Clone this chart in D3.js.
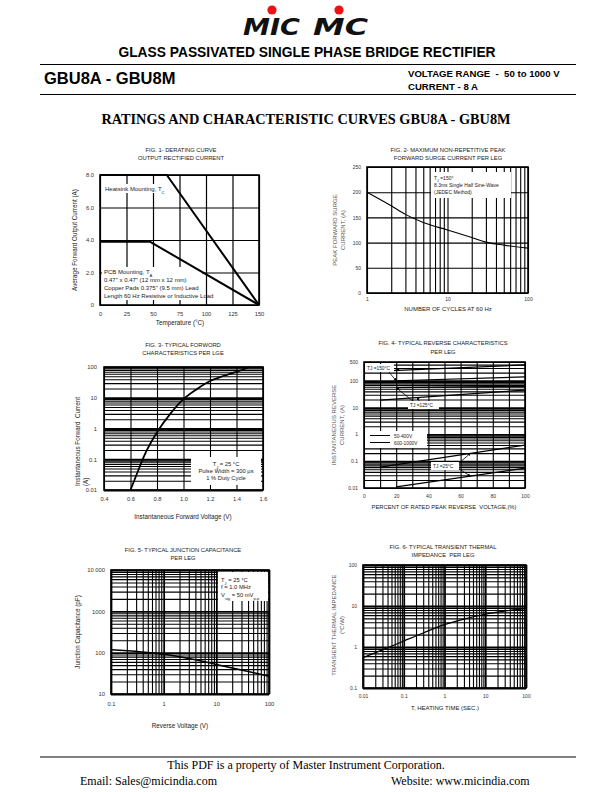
<!DOCTYPE html>
<html><head><meta charset="utf-8">
<script src="https://cdn.jsdelivr.net/npm/d3@7"></script>
<style>body{margin:0;background:#fff} text{white-space:pre}</style>
</head><body>
<script>
// ---------------- DATA ----------------
// Fig 1 - derating curve
const fig1XTicks = [0, 25, 50, 75, 100, 125, 150];
const fig1YTicks = [0, 2, 4, 6, 8];
const fig1YLabels = ["0", "2.0", "4.0", "6.0", "8.0"];
const fig1HeatsinkTemp = [0, 63, 150];
const fig1HeatsinkCurrent = [8, 8, 0];
const fig1PcbTemp = [0, 47, 150];
const fig1PcbCurrent = [3.9, 3.9, 0];
// Fig 2 - surge current
const fig2Cycles = [1, 2, 3, 5, 10, 20, 30, 50, 100];
const fig2Surge = [200, 173, 156, 140, 125, 110, 101, 95, 89];
const fig2XTicks = [1, 10, 100];
const fig2YTicks = [0, 50, 100, 150, 200, 250];
// Fig 3 - forward characteristics
const fig3Voltage = [0.6, 0.65, 0.7, 0.8, 0.9, 1.0, 1.1, 1.2, 1.3, 1.4, 1.5];
const fig3Current = [0.01, 0.035, 0.12, 0.75, 3, 9, 19, 35, 51, 69, 100];
const fig3XTicks = [0.4, 0.6, 0.8, 1.0, 1.2, 1.4, 1.6];
const fig3XLabels = ["0.4", "0.6", "0.8", "1.0", "1.2", "1.4", "1.6"];
const fig3YTicks = [0.01, 0.1, 1, 10, 100];
const fig3YLabels = ["0.01", "0.1", "1", "10", "100"];
// Fig 4 - reverse characteristics
const fig4XTicks = [0, 20, 40, 60, 80, 100];
const fig4YTicks = [0.01, 0.1, 1, 10, 100, 500];
const fig4YLabels = ["0.01", "0.1", "1", "10", "100", "500"];
const fig4Pct150Hi = [10, 100], fig4Ir150Hi = [230, 390];
const fig4Pct150Lo = [20, 100], fig4Ir150Lo = [100, 140];
const fig4Pct125Hi = [20, 100], fig4Ir125Hi = [55, 62];
const fig4Pct125Lo = [10, 100], fig4Ir125Lo = [19, 45];
const fig4Pct25Hi = [10, 100], fig4Ir25Hi = [0.06, 0.4];
const fig4Pct25Lo = [20, 100], fig4Ir25Lo = [0.011, 0.055];
// Fig 5 - junction capacitance
const fig5Voltage = [0.1, 1, 3, 10, 30, 100];
const fig5Cap = [117, 91, 72, 52, 38, 27];
const fig5XTicks = [0.1, 1, 10, 100];
const fig5XLabels = ["0.1", "1", "10", "100"];
const fig5YTicks = [10, 100, 1000, 10000];
const fig5YLabels = ["10", "100", "1000", "10 000"];
// Fig 6 - transient thermal impedance
const fig6Time = [0.01, 0.03, 0.1, 0.3, 1, 3, 10, 30, 100];
const fig6Imp = [0.55, 0.85, 1.4, 2.2, 3.5, 4.8, 6.3, 7.5, 8.6];
const fig6XTicks = [0.01, 0.1, 1, 10, 100];
const fig6XLabels = ["0.01", "0.1", "1", "10", "100"];
const fig6YTicks = [0.1, 1, 10, 100];
const fig6YLabels = ["0.1", "1", "10", "100"];

// ---------------- DRAWING ----------------
const SANS = "'Liberation Sans', Arial, Helvetica, sans-serif";
const SERIF = "'Liberation Serif', 'Times New Roman', serif";
const svg = d3.select("body").append("svg").attr("width", 612).attr("height", 792);

function text(x, y, s, o = {}) {
  const t = svg.append("text").attr("x", x).attr("y", y)
    .attr("font-family", o.family || SANS).attr("font-size", o.size || 6.3)
    .attr("font-weight", o.weight || "normal").attr("text-anchor", o.anchor || "start")
    .attr("fill", o.fill || "#1a1a1a");
  if (o.style) t.attr("font-style", o.style);
  if (o.rotate) t.attr("transform", `rotate(-90,${x},${y})`);
  if (Array.isArray(s)) {
    s.forEach(p => {
      const ts = t.append("tspan").text(p[0]);
      if (p[1]) ts.attr("font-size", (o.size || 6.3) * 0.7).attr("baseline-shift", "sub");
    });
  } else t.text(s);
  return t;
}

function logGrid(lo, hi) {
  const out = [];
  for (let e = Math.floor(Math.log10(lo)); e <= Math.ceil(Math.log10(hi)); e++)
    for (let k = 1; k <= 9; k++) {
      const v = +(k * Math.pow(10, e)).toPrecision(6);
      if (v >= lo * 0.999 && v <= hi * 1.001) out.push(v);
    }
  return out;
}

function panel(o) {
  const g = svg.append("g");
  const [x0, x1] = o.x.range(), [yb, yt] = o.y.range();
  const gw = o.gridW || 1.1;
  g.append("g").attr("transform", `translate(0,${yb})`)
    .call(d3.axisBottom(o.x).tickValues(o.xGrid).tickSize(-(yb - yt)).tickFormat(""))
    .call(s => { s.select(".domain").remove(); s.selectAll("line").attr("stroke", "#000")
      .attr("stroke-width", d => (o.xMajor && o.xMajor.includes(d)) ? gw * 1.6 : gw); });
  g.append("g").attr("transform", `translate(${x0},0)`)
    .call(d3.axisLeft(o.y).tickValues(o.yGrid).tickSize(-(x1 - x0)).tickFormat(""))
    .call(s => { s.select(".domain").remove(); s.selectAll("line").attr("stroke", "#000")
      .attr("stroke-width", d => (o.yMajor && o.yMajor.includes(d)) ? gw * 1.6 : gw); });
  g.append("rect").attr("x", x0).attr("y", yt).attr("width", x1 - x0).attr("height", yb - yt)
    .attr("fill", "none").attr("stroke", "#000").attr("stroke-width", o.frameW || 1.6);
  g.append("g").attr("transform", `translate(0,${yb})`)
    .call(d3.axisBottom(o.x).tickValues(o.xTicks).tickSize(0).tickPadding(o.xPad || 7)
      .tickFormat((d, i) => o.xLabels ? o.xLabels[i] : String(d)))
    .call(s => { s.select(".domain").remove(); s.selectAll("text").attr("font-family", SANS)
      .attr("font-size", o.tickSize || 5.8).attr("fill", "#333"); });
  g.append("g").attr("transform", `translate(${x0},0)`)
    .call(d3.axisLeft(o.y).tickValues(o.yTicks).tickSize(0).tickPadding(o.yPad || 5)
      .tickFormat((d, i) => o.yLabels ? o.yLabels[i] : String(d)))
    .call(s => { s.select(".domain").remove(); s.selectAll("text").attr("font-family", SANS)
      .attr("font-size", o.tickSize || 5.8).attr("fill", "#333"); });
  return g;
}

function curve(xs, ys, x, y, w, smooth) {
  const pts = xs.map((d, i) => [d, ys[i]]);
  const gen = d3.line().x(d => x(d[0])).y(d => y(d[1]));
  if (smooth) gen.curve(d3.curveMonotoneX);
  return svg.append("path").attr("d", gen(pts))
    .attr("fill", "none").attr("stroke", "#000").attr("stroke-width", w || 1.3).attr("stroke-linejoin", "round");
}

function whiteBox(x, y, w, h) {
  svg.append("rect").attr("x", x).attr("y", y).attr("width", w).attr("height", h).attr("fill", "#fff");
}

// ---------- HEADER ----------
text(243, 35, "MIC", { size: 23, weight: "bold", style: "italic", family: "'DejaVu Sans', sans-serif", fill: "#111" })
  .attr("textLength", 57).attr("lengthAdjust", "spacingAndGlyphs");
text(313, 35, "MC", { size: 23, weight: "bold", style: "italic", family: "'DejaVu Sans', sans-serif", fill: "#111" })
  .attr("textLength", 55).attr("lengthAdjust", "spacingAndGlyphs");
svg.append("circle").attr("cx", 272).attr("cy", 10).attr("r", 4.6).attr("fill", "#ee1111");
svg.append("circle").attr("cx", 339).attr("cy", 10).attr("r", 4.6).attr("fill", "#ee1111");

text(307, 57, "GLASS PASSIVATED SINGLE PHASE BRIDGE RECTIFIER", { size: 13.8, weight: "bold", anchor: "middle", fill: "#000" });
svg.append("line").attr("x1", 40).attr("x2", 576).attr("y1", 64.5).attr("y2", 64.5).attr("stroke", "#000").attr("stroke-width", 1);
text(44, 84, "GBU8A - GBU8M", { size: 16.5, weight: "bold", fill: "#000" });
text(408, 77, "VOLTAGE RANGE  -  50 to 1000 V", { size: 9.6, weight: "bold", fill: "#000" });
text(408, 90, "CURRENT - 8 A", { size: 9.6, weight: "bold", fill: "#000" });
svg.append("line").attr("x1", 40).attr("x2", 576).attr("y1", 94.5).attr("y2", 94.5).attr("stroke", "#000").attr("stroke-width", 1);
text(306, 124, "RATINGS AND CHARACTERISTIC CURVES GBU8A - GBU8M", { size: 14.3, weight: "bold", anchor: "middle", family: SERIF, fill: "#000" });

// ---------- FIG 1 ----------
{
  const x = d3.scaleLinear().domain([0, 150]).range([100, 259]);
  const y = d3.scaleLinear().domain([0, 8]).range([305, 175]);
  text(181, 152, "FIG. 1- DERATING CURVE", { anchor: "middle", size: 5.8 });
  text(181, 160, "OUTPUT RECTIFIED CURRENT", { anchor: "middle", size: 5.8 });
  panel({ x, y, xGrid: fig1XTicks, yGrid: fig1YTicks, xTicks: fig1XTicks, yTicks: fig1YTicks, yLabels: fig1YLabels, xPad: 7, yPad: 6, gridW: 1.2 });
  whiteBox(103, 184, 64, 9);
  text(105, 191, [["Heatsink Mounting, T"], ["C", 1]], { size: 6 });
  whiteBox(102, 267, 100, 33);
  text(104, 274, [["PCB Mounting, T"], ["A", 1]], { size: 6 });
  text(104, 282, "0.47\" x 0.47\" (12 mm x 12 mm)", { size: 6 });
  text(104, 290, "Copper Pads 0.375\" (9.5 mm) Lead", { size: 6 });
  text(104, 298, "Length 60 Hz Resistive or Inductive Load", { size: 6 });
  curve(fig1HeatsinkTemp, fig1HeatsinkCurrent, x, y, 2);
  curve(fig1PcbTemp, fig1PcbCurrent, x, y, 2);
  text(180, 325, "Temperature (°C)", { anchor: "middle", size: 6.3 });
  text(77, 240, "Average Forward Output Current (A)", { anchor: "middle", size: 6.3, rotate: true });
}

// ---------- FIG 2 ----------
{
  const x = d3.scaleLog().domain([1, 100]).range([367, 528]);
  const y = d3.scaleLinear().domain([0, 250]).range([293, 167]);
  text(448, 152, "FIG. 2- MAXIMUM NON-REPETITIVE PEAK", { anchor: "middle", size: 5.8 });
  text(448, 160, "FORWARD SURGE CURRENT PER LEG", { anchor: "middle", size: 5.8 });
  panel({ x, y, xGrid: logGrid(1, 100), yGrid: fig2YTicks, xTicks: fig2XTicks, yTicks: fig2YTicks, xPad: 4, yPad: 6, gridW: 1.1, tickSize: 5 });
  curve(fig2Cycles, fig2Surge, x, y, 1.1, true);
  whiteBox(431, 172, 80, 26);
  text(434, 180, [["T"], ["J", 1], [" =150°"]], { size: 5 });
  text(434, 187, "8.3ms Single Half Sine-Wave", { size: 5 });
  text(434, 194, "(JEDEC Method)", { size: 5 });
  text(448, 311, "NUMBER OF CYCLES AT 60 Hz", { anchor: "middle", size: 6 });
  text(337, 230, "PEAK FORWARD SURGE", { anchor: "middle", size: 6, rotate: true, fill: "#555" });
  text(345, 230, "CURRENT, (A)", { anchor: "middle", size: 6, rotate: true, fill: "#555" });
}

// ---------- FIG 3 ----------
{
  const x = d3.scaleLinear().domain([0.4, 1.6]).range([104, 263]);
  const y = d3.scaleLog().domain([0.01, 100]).range([490, 367]);
  text(183, 347, "FIG. 3- TYPICAL FORWORD", { anchor: "middle", size: 5.8 });
  text(183, 355, "CHARACTERISTICS PER LGE", { anchor: "middle", size: 5.8 });
  panel({ x, y, xGrid: fig3XTicks, yGrid: logGrid(0.01, 100), yMajor: fig3YTicks, xTicks: fig3XTicks, xLabels: fig3XLabels, yTicks: fig3YTicks, yLabels: fig3YLabels, xPad: 7, yPad: 7, gridW: 1.1 });
  whiteBox(191, 457, 70, 28);
  text(226, 466, [["T"], ["J", 1], [" = 25 °C"]], { anchor: "middle", size: 5.8 });
  text(226, 473, "Pulse Width = 300 µs", { anchor: "middle", size: 5.8 });
  text(226, 480, "1 % Duty Cycle", { anchor: "middle", size: 5.8 });
  curve(fig3Voltage, fig3Current, x, y, 1.8, true);
  text(183, 519, "Instantaneous Forward Voltage (V)", { anchor: "middle", size: 6.3 });
  text(80, 486, "Instantaneous Forward  Current", { size: 6.3, rotate: true });
  text(88, 486, "(A)", { size: 6.3, rotate: true });
}

// ---------- FIG 4 ----------
{
  const x = d3.scaleLinear().domain([0, 100]).range([364, 525]);
  const y = d3.scaleLog().domain([0.01, 500]).range([488, 362]);
  text(443, 345, "FIG. 4- TYPICAL REVERSE CHARACTERISTICS", { anchor: "middle", size: 5.8 });
  text(443, 354, "PER LEG", { anchor: "middle", size: 5.8 });
  panel({ x, y, xGrid: d3.range(0, 101, 10), yGrid: logGrid(0.01, 500), yMajor: [0.1, 1, 10, 100], xTicks: fig4XTicks, yTicks: fig4YTicks, yLabels: fig4YLabels, xPad: 6, yPad: 6, gridW: 1.1, tickSize: 5 });
  curve(fig4Pct150Hi, fig4Ir150Hi, x, y, 1.2);
  curve(fig4Pct150Lo, fig4Ir150Lo, x, y, 1.2);
  curve(fig4Pct125Hi, fig4Ir125Hi, x, y, 1.2);
  curve(fig4Pct125Lo, fig4Ir125Lo, x, y, 1.2);
  curve(fig4Pct25Hi, fig4Ir25Hi, x, y, 1.2);
  curve(fig4Pct25Lo, fig4Ir25Lo, x, y, 1.2);
  svg.append("defs").append("marker").attr("id", "ah").attr("viewBox", "0 0 6 6").attr("refX", 5).attr("refY", 3)
    .attr("markerWidth", 4).attr("markerHeight", 4).attr("orient", "auto")
    .append("path").attr("d", "M0,0L6,3L0,6Z").attr("fill", "#000");
  const interp = (xs, ys, p) => Math.exp(Math.log(ys[0]) + (Math.log(ys[1]) - Math.log(ys[0])) * (p - xs[0]) / (xs[1] - xs[0]));
  const arrow = (fx, fy, p, xs, ys) => svg.append("line").attr("x1", fx).attr("y1", fy)
    .attr("x2", x(p)).attr("y2", y(interp(xs, ys, p))).attr("stroke", "#000").attr("stroke-width", 0.8).attr("marker-end", "url(#ah)");
  arrow(393, 368, 22, fig4Pct150Hi, fig4Ir150Hi);
  arrow(388, 371, 20, fig4Pct150Lo, fig4Ir150Lo);
  arrow(414, 402, 20, fig4Pct125Hi, fig4Ir125Hi);
  arrow(420, 402, 33, fig4Pct125Lo, fig4Ir125Lo);
  arrow(458, 464, 66, fig4Pct25Hi, fig4Ir25Hi);
  arrow(458, 468, 66, fig4Pct25Lo, fig4Ir25Lo);
  whiteBox(365, 364, 29, 8);
  text(367, 370, "TJ =150°C", { size: 4.8 });
  whiteBox(408, 401, 31, 8);
  text(410, 407, "TJ =125°C", { size: 4.8 });
  whiteBox(431, 462, 28, 8);
  text(433, 468, "TJ =25°C", { size: 4.8 });
  whiteBox(365, 431, 62, 17);
  svg.append("line").attr("x1", 370).attr("x2", 390).attr("y1", 435.5).attr("y2", 435.5).attr("stroke", "#000").attr("stroke-width", 1);
  svg.append("line").attr("x1", 370).attr("x2", 390).attr("y1", 442.5).attr("y2", 442.5).attr("stroke", "#000").attr("stroke-width", 1);
  text(394, 437.5, "50-400V", { size: 4.8 });
  text(394, 444.5, "600-1000V", { size: 4.8 });
  text(444, 509, "PERCENT OF RATED PEAK REVERSE  VOLTAGE,(%)", { anchor: "middle", size: 5.8 });
  text(336, 425, "INSTANTANEOUS REVERSE", { anchor: "middle", size: 6, rotate: true, fill: "#555" });
  text(344, 425, "CURRENT, (A)", { anchor: "middle", size: 6, rotate: true, fill: "#555" });
}

// ---------- FIG 5 ----------
{
  const x = d3.scaleLog().domain([0.1, 100]).range([111, 269]);
  const y = d3.scaleLog().domain([10, 10000]).range([694, 570]);
  text(183, 552, "FIG. 5- TYPICAL JUNCTION CAPACITANCE", { anchor: "middle", size: 5.8 });
  text(183, 560, "PER LEG", { anchor: "middle", size: 5.8 });
  panel({ x, y, xGrid: logGrid(0.1, 100), yGrid: logGrid(10, 10000), xMajor: fig5XTicks, yMajor: fig5YTicks, xTicks: fig5XTicks, xLabels: fig5XLabels, yTicks: fig5YTicks, yLabels: fig5YLabels, xPad: 8, yPad: 6, gridW: 1.1 });
  whiteBox(218, 572, 50, 29);
  text(221, 582, [["T"], ["J", 1], [" = 25 °C"]], { size: 5.8 });
  text(221, 589, "f = 1.0 MHz", { size: 5.8 });
  text(221, 597, [["V"], ["sig", 1], [" = 50 mV"], ["p-p", 1]], { size: 5.8 });
  curve(fig5Voltage, fig5Cap, x, y, 1.5, true);
  text(180, 728, "Reverse Voltage (V)", { anchor: "middle", size: 6.3 });
  text(80, 632, "Junction Capacitance (pF)", { anchor: "middle", size: 6.3, rotate: true });
}

// ---------- FIG 6 ----------
{
  const x = d3.scaleLog().domain([0.01, 100]).range([363, 526]);
  const y = d3.scaleLog().domain([0.1, 100]).range([688, 565]);
  text(443, 549, "FIG. 6- TYPICAL TRANSIENT THERMAL", { anchor: "middle", size: 5.8 });
  text(443, 557, "IMPEDANCE  PER LEG", { anchor: "middle", size: 5.8 });
  panel({ x, y, xGrid: logGrid(0.01, 100), yGrid: logGrid(0.1, 100), xMajor: fig6XTicks, yMajor: fig6YTicks, xTicks: fig6XTicks, xLabels: fig6XLabels, yTicks: fig6YTicks, yLabels: fig6YLabels, xPad: 6, yPad: 6, gridW: 1.1, tickSize: 5 });
  curve(fig6Time, fig6Imp, x, y, 1.2, true);
  text(445, 710, "T, HEATING TIME (SEC.)", { anchor: "middle", size: 6 });
  text(336, 625, "TRANSIENT THERMAL IMPEDANCE", { anchor: "middle", size: 6, rotate: true, fill: "#555" });
  text(344, 625, "(°C/W)", { anchor: "middle", size: 6, rotate: true, fill: "#555" });
}

// ---------- FOOTER ----------
svg.append("line").attr("x1", 40).attr("x2", 576).attr("y1", 757).attr("y2", 757).attr("stroke", "#000").attr("stroke-width", 1);
text(306, 769, "This PDF is a property of Master Instrument Corporation.", { anchor: "middle", size: 12, family: SERIF, fill: "#000" });
text(80, 785, "Email: Sales@micindia.com", { size: 12, family: SERIF, fill: "#000" });
text(391, 785, "Website: www.micindia.com", { size: 12, family: SERIF, fill: "#000" });
</script>
</body></html>
